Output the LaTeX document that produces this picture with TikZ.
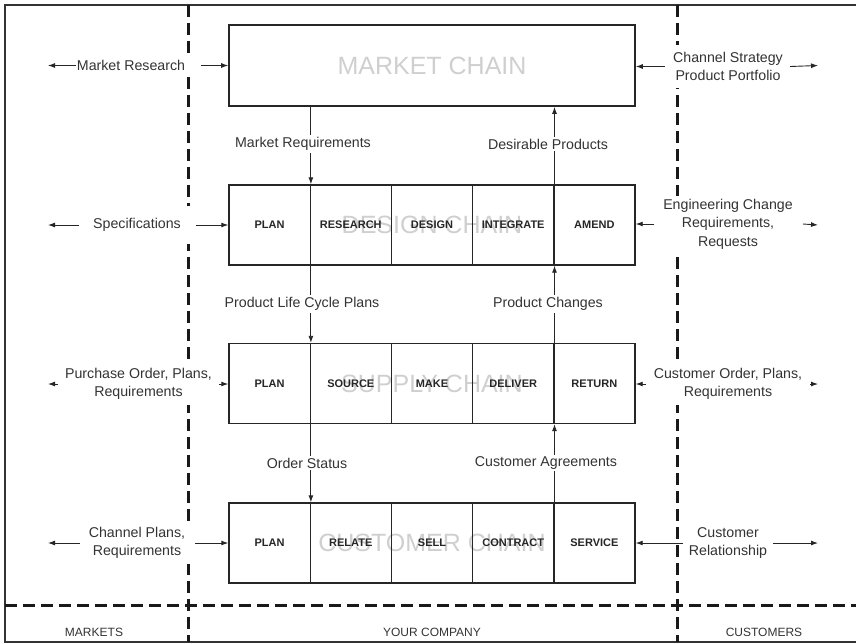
\documentclass[tikz,border=0pt]{standalone}
\usepackage{fontspec}
\setmainfont{Liberation Sans}
\usetikzlibrary{arrows.meta,calc}
\begin{document}
\begin{tikzpicture}[x=1pt,y=-1pt,
  frame/.style={line width=1.3pt, draw=black!80},
  zone/.style={line width=3pt, dash pattern=on 12pt off 6pt, draw=black!90},
  chainbox/.style={draw=black!85, line width=1.6pt, minimum width=406pt, minimum height=81pt, inner sep=0pt},
  cellbox/.style={draw=black!85, line width=1.4pt, minimum width=81.2pt, minimum height=80pt, inner sep=0pt,
                  font=\bfseries\fontsize{11}{13}\selectfont, text=black!85},
  chaintitle/.style={text=black!19, font=\fontsize{25}{27}\selectfont, inner sep=0pt},
  lbl/.style={fill=white, font=\fontsize{14.2}{18.5}\selectfont, align=center, text=black!80,
              inner xsep=4pt, inner ysep=3pt},
  zonelbl/.style={font=\fontsize{12}{14}\selectfont, text=black!80},
  flow/.style={line width=0.9pt, draw=black!85, -{Latex[length=7pt,width=5pt]}},
]
\path[use as bounding box] (0,0) rectangle (856,643);

% outer frame (runs off the right edge)
\draw[frame] (870,5) -- (5,5) -- (5,642) -- (870,642);

% zone dividers
\draw[zone] (188,5) -- (188,642);
\draw[zone] (677,5) -- (677,642);
\draw[zone] (5,605.5) -- (870,605.5);

% market chain
\node[chainbox] (mc) at (432,65.5) {};
\node[chaintitle] (mct) at (mc) {MARKET CHAIN};

% design chain
\node[chaintitle] (dct) at (432,225) {DESIGN CHAIN};
\foreach \lab [count=\i] in {PLAN,RESEARCH,DESIGN,INTEGRATE,AMEND}
  \node[cellbox] (d\i) at (229+81.2*\i-40.6,225) {\lab};

% supply chain
\node[chaintitle] (sct) at (432,383.5) {SUPPLY CHAIN};
\foreach \lab [count=\i] in {PLAN,SOURCE,MAKE,DELIVER,RETURN}
  \node[cellbox] (s\i) at (229+81.2*\i-40.6,383.5) {\lab};

% customer chain
\node[chaintitle] (cct) at (432,543) {CUSTOMER CHAIN};
\foreach \lab [count=\i] in {PLAN,RELATE,SELL,CONTRACT,SERVICE}
  \node[cellbox] (c\i) at (229+81.2*\i-40.6,543) {\lab};

% flows between the chains
\draw[flow] (mc.south -| d1.north east) -- (d1.north east);
\draw[flow] (d4.north east) -- (mc.south -| d4.north east);
\draw[flow] (d1.south east) -- (s1.north east);
\draw[flow] (s4.north east) -- (d4.south east);
\draw[flow] (s1.south east) -- (c1.north east);
\draw[flow] (c4.north east) -- (s4.south east);

\node[lbl, inner ysep=2pt] (f1) at (303,144) {Market Requirements};
\node[lbl, inner ysep=2pt] (f2) at (548,144) {Desirable Products};
\node[lbl, inner ysep=2pt] (f3) at (302,304) {Product Life Cycle Plans};
\node[lbl, inner ysep=2pt] (f4) at (548,304) {Product Changes};
\node[lbl, inner ysep=2pt] (f5) at (307,463) {Order Status};
\node[lbl, inner ysep=2pt] (f6) at (546,463) {Customer Agreements};

% free ends of the side arrows
\coordinate (wl1) at (48,65.5);
\coordinate (wl2) at (48,225);
\coordinate (wl3) at (48,384);
\coordinate (wl4) at (48,543);
\coordinate (el1) at (818,65.5);
\coordinate (el2) at (818,225);
\coordinate (el3) at (818,384);
\coordinate (el4) at (818,543);

% market side
\node[lbl, inner xsep=8pt, inner ysep=5pt] (m1) at (131,65.5) {Market Research};
\draw[flow] ([xshift=7pt]m1.west) -- (wl1);
\draw[flow] ([xshift=8pt]m1.east) -- (m1 -| mc.west);

\node[lbl, inner xsep=12pt, inner ysep=12pt] (m2) at (137,225) {Specifications};
\draw[flow] ([xshift=-2pt]m2.west) -- (wl2);
\draw[flow] ([xshift=3pt]m2.east) -- (m2 -| d1.west);

\node[lbl, inner ysep=5pt] (m3) at (138.5,384) {Purchase Order, Plans,\\Requirements};
\draw[flow] ([xshift=-3pt]m3.west) -- (wl3);
\draw[flow] ([xshift=3pt]m3.east) -- (m3 -| s1.west);

\node[lbl, inner xsep=9pt, inner ysep=5pt] (m4) at (137,543) {Channel Plans,\\Requirements};
\draw[flow] (m4.west) -- (wl4);
\draw[flow] ([xshift=1pt]m4.east) -- (m4 -| c1.west);

% customer side
\node[lbl, inner ysep=7pt] (k1) at (728,66.5) {Channel Strategy\\Product Portfolio};
\draw[flow] ([xshift=-4pt]k1.west) -- (k1 -| mc.east);
\draw[flow] ([xshift=3pt]k1.east) -- (el1);

\node[lbl] (k2) at (728,224) {Engineering Change\\Requirements,\\Requests};
\draw[flow] ([xshift=-5pt]k2.west) -- (k2 -| d5.east);
\draw[flow] ([xshift=6pt]k2.east) -- (el2);

\node[lbl, inner ysep=5pt] (k3) at (728,384) {Customer Order, Plans,\\Requirements};
\draw[flow] ([xshift=-4pt]k3.west) -- (k3 -| s5.east);
\draw[flow] ([xshift=4pt]k3.east) -- (el3);

\node[lbl] (k4) at (728,543) {Customer\\Relationship};
\draw[flow] ([xshift=-2pt]k4.west) -- (k4 -| c5.east);
\draw[flow] ([xshift=2pt]k4.east) -- (el4);

% zone names
\node[zonelbl] (zm) at (94,632) {MARKETS};
\node[zonelbl] (zy) at (432,632) {YOUR COMPANY};
\node[zonelbl] (zc) at (764,632) {CUSTOMERS};
\end{tikzpicture}
\end{document}
